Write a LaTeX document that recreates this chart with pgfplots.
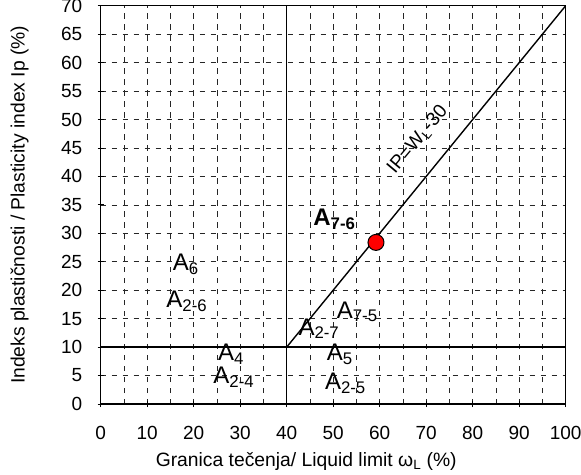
\documentclass[border=0pt]{standalone}
\usepackage{pgfplots}
\pgfplotsset{compat=1.18}
\usepackage{fontspec}
\setmainfont{Liberation Sans}
\begin{document}
\begin{tikzpicture}
\begin{axis}[
  at={(0,0)}, anchor=south west,
  scale only axis, width=465pt, height=398.3pt,
  xmin=0, xmax=100, ymin=0, ymax=70,
  xtick={0,10,...,100}, ytick={0,5,...,70},
  minor x tick num=1,
  grid=both,
  major grid style={black!85, line width=0.7pt, dash pattern=on 5.5pt off 5.5pt},
  minor grid style={black!85, line width=0.7pt, dash pattern=on 5.5pt off 5.5pt},
  minor tick length=0pt,
  major tick length=6pt,
  tick align=center,
  xtick pos=bottom, ytick pos=left,
  tick style={black, line width=0.8pt},
  axis line style={black, line width=1.4pt},
  /pgf/number format/assume math mode=true,
  ticklabel style={font=\fontsize{19}{21}\selectfont},
  xticklabel style={yshift=-16pt},
  yticklabel style={xshift=-12pt},
  every axis x label/.style={at={(axis description cs:0.5,0)}, anchor=center, yshift=-57pt, xshift=-27pt, font=\fontsize{19.3}{22}\selectfont},
  every axis y label/.style={at={(axis description cs:0,0.5)}, anchor=center, rotate=90, yshift=81pt, font=\fontsize{19.3}{22}\selectfont},
  xlabel={Granica tečenja/ Liquid limit ω\textsubscript{L} (\%)},
  ylabel={Indeks plastičnosti / Plasticity index Ip (\%)},
]
\addplot[black, line width=1.4pt] coordinates {(40,0) (40,70)};
\addplot[black, line width=1.4pt] coordinates {(0,10) (100,10)};
\addplot[black, line width=1.4pt] coordinates {(40,10) (100,70)};
\addplot[only marks, mark=*, mark size=8pt, mark options={fill=red, draw=black, line width=1pt}] coordinates {(59.2,28.4)};
\begin{scope}[every node/.style={font=\fontsize{24}{26}\selectfont, inner sep=0pt, anchor=base west}]
\node at (axis cs:15.5,23.4) {A\textsubscript{6}};
\node at (axis cs:14.1,17.0) {A\textsubscript{2-6}};
\node at (axis cs:25.2,7.6) {A\textsubscript{4}};
\node at (axis cs:24.2,3.6) {A\textsubscript{2-4}};
\node at (axis cs:42.5,12.1) {A\textsubscript{2-7}};
\node at (axis cs:50.75,15.1) {A\textsubscript{7-5}};
\node at (axis cs:48.6,7.6) {A\textsubscript{5}};
\node at (axis cs:48.2,2.5) {A\textsubscript{2-5}};
\node[font=\fontsize{24}{26}\selectfont\bfseries] at (axis cs:45.7,31.3) {A\textsubscript{7-6}};
\end{scope}
\node[font=\fontsize{19}{21}\selectfont, rotate=50, anchor=center, inner sep=0pt] at (axis cs:68.2,46.4) {IP=W\textsubscript{L}-30};
\end{axis}
\pgfresetboundingbox
\path[use as bounding box] (-100.7pt,-70pt) rectangle (480.3pt,404pt);
\end{tikzpicture}
\end{document}
